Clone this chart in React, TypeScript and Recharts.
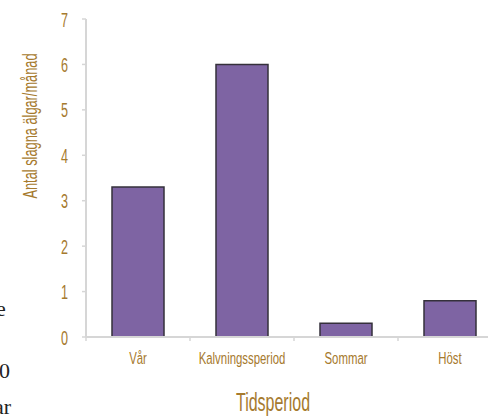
import React from 'react';
import { BarChart, Bar, XAxis, YAxis, Label } from 'recharts';

const periods = ['Vår', 'Kalvningssperiod', 'Sommar', 'Höst'];
const killsPerMonth = [3.3, 6, 0.3, 0.8];
const yTicks = [0, 1, 2, 3, 4, 5, 6, 7];

const GOLD = '#a67a2e';
const AXIS = '#d6d6d6';
const FONT = 'Liberation Sans, Arial, sans-serif';

const data = periods.map((name, i) => ({ name, value: killsPerMonth[i] }));

// condensed look: plain sans squeezed horizontally
const XTick = (props: any) => {
  const { x, y, payload } = props;
  return (
    <g>
      <line x1={x - 52} y1={y - 8} x2={x - 52} y2={y - 4} stroke={AXIS} strokeWidth={1.5} />
      <text
        transform={`translate(${x},${y + 19}) scale(0.67,1)`}
        textAnchor="middle"
        fill={GOLD}
        fontSize={17}
        fontFamily={FONT}
      >
        {payload.value}
      </text>
    </g>
  );
};

const YTick = (props: any) => {
  const { x, y, payload } = props;
  return (
    <text
      transform={`translate(${x - 12},${y + 7.5}) scale(0.6,1)`}
      textAnchor="end"
      fill={GOLD}
      fontSize={21}
      fontFamily={FONT}
    >
      {payload.value}
    </text>
  );
};

const YTitle = (props: any) => {
  const { viewBox } = props;
  const cx = viewBox.x + 37;
  const cy = viewBox.y + viewBox.height / 2 - 52;
  return (
    <text
      transform={`translate(${cx},${cy}) rotate(-90) scale(0.64,1)`}
      textAnchor="middle"
      fill={GOLD}
      fontSize={20}
      fontFamily={FONT}
    >
      Antal slagna älgar/månad
    </text>
  );
};

const XTitle = (props: any) => {
  const { viewBox } = props;
  const cx = viewBox.x + viewBox.width / 2 - 21;
  return (
    <text
      transform={`translate(${cx},${viewBox.y + 74}) scale(0.64,1)`}
      textAnchor="middle"
      fill={GOLD}
      fontSize={25}
      fontFamily={FONT}
    >
      Tidsperiod
    </text>
  );
};

const stray: React.CSSProperties = {
  position: 'absolute',
  fontFamily: 'Liberation Serif, serif',
  fontSize: 22,
  color: '#222',
  lineHeight: 1,
};

export default function App() {
  return (
    <div style={{ position: 'absolute', left: 0, top: 0, width: 488, height: 417, overflow: 'hidden', background: '#fff' }}>
      {/* bits of the surrounding page text */}
      <span style={{ ...stray, left: -4, top: 298 }}>e</span>
      <span style={{ ...stray, left: -1, top: 360 }}>0</span>
      <span style={{ ...stray, left: -6, top: 396 }}>ar</span>

      <BarChart
        width={510}
        height={417}
        data={data}
        margin={{ top: 19, right: 8, left: 0, bottom: 0 }}
        barCategoryGap="25%"
        style={{ position: 'absolute', left: 0, top: 0 }}
      >
        <XAxis
          dataKey="name"
          height={80}
          axisLine={{ stroke: AXIS, strokeWidth: 2 }}
          tickLine={false}
          tick={<XTick />}
          interval={0}
        >
          <Label content={<XTitle />} />
        </XAxis>
        <YAxis
          width={86}
          domain={[0, 7]}
          ticks={yTicks}
          interval={0}
          axisLine={{ stroke: AXIS, strokeWidth: 2 }}
          tickLine={{ stroke: AXIS, strokeWidth: 1.5 }}
          tickSize={4}
          tick={<YTick />}
        >
          <Label content={<YTitle />} />
        </YAxis>
        <Bar dataKey="value" fill="#7e64a3" stroke="#35303b" strokeWidth={1.5} isAnimationActive={false} />
      </BarChart>
    </div>
  );
}
